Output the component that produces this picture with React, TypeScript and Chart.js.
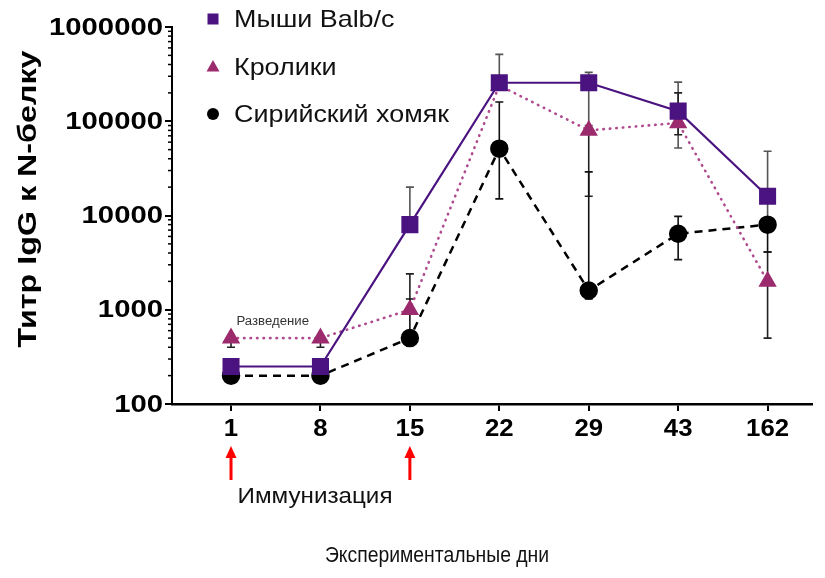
import React, { useEffect, useRef } from 'react';
import { Chart, registerables } from 'chart.js';

Chart.register(...registerables);

// ---------- data ----------
const days = ['1', '8', '15', '22', '29', '43', '162'];
const yTickValues = [100, 1000, 10000, 100000, 1000000];
const yTickLabels = ['100', '1000', '10000', '100000', '1000000'];
const immunizationDays = ['1', '15'];

const miceLabel = 'Мыши Balb/c';
const miceValues = [250, 250, 8000, 256000, 256000, 128000, 16000];
const miceLow = [250, 250, 8000, 256000, 90000, 52000, 9000];
const miceHigh = [250, 300, 20000, 512000, 330000, 260000, 48000];

const rabbitLabel = 'Кролики';
const rabbitValues = [500, 500, 1000, 240000, 80000, 96000, 2000];
const rabbitLow = [400, 400, 1000, 240000, 16000, 72000, 500];
const rabbitHigh = [500, 500, 2400, 240000, 80000, 200000, 4100];

const hamsterLabel = 'Сирийский хомяк';
const hamsterValues = [200, 200, 500, 51200, 1600, 6400, 8000];
const hamsterLow = [200, 200, 460, 15000, 1300, 3400, 4100];
const hamsterHigh = [200, 200, 1300, 160000, 29000, 9800, 8000];

const yTitle = 'Титр IgG к N-белку';
const xTitle = 'Экспериментальные дни';
const immunizationText = 'Иммунизация';
const dilutionText = 'Разведение';

const FONT = '"Liberation Sans", Arial, Helvetica, sans-serif';

const MICE_COLOR = '#4a1380';
const RABBIT_COLOR = '#9c2b6e';
const RABBIT_LINE = '#b04a8e';

const toPoints = (vals: number[]) => vals.map((v, i) => ({ x: i, y: v }));

function drawText(
  ctx: CanvasRenderingContext2D,
  text: string,
  x: number,
  y: number,
  font: string,
  color: string,
  align: CanvasTextAlign,
  sx: number,
  rotate = 0
) {
  ctx.save();
  ctx.translate(x, y);
  if (rotate) ctx.rotate(rotate);
  ctx.scale(sx, 1);
  ctx.font = font;
  ctx.fillStyle = color;
  ctx.textAlign = align;
  ctx.textBaseline = 'middle';
  ctx.fillText(text, 0, 0);
  ctx.restore();
}

const errorBarPlugin = {
  id: 'errorBars',
  beforeDatasetsDraw(chart: any) {
    const { ctx } = chart;
    const xs = chart.scales.x;
    const ys = chart.scales.y;
    chart.data.datasets.forEach((ds: any) => {
      ctx.save();
      ctx.strokeStyle = ds.errColor;
      ctx.lineWidth = 1.6;
      ds.data.forEach((p: any, i: number) => {
        const x = xs.getPixelForValue(p.x);
        const yc = ys.getPixelForValue(p.y);
        const hi = ds.errHigh[i];
        const lo = ds.errLow[i];
        const cap = 4;
        if (hi > p.y) {
          const yh = ys.getPixelForValue(hi);
          ctx.beginPath();
          ctx.moveTo(x, yc);
          ctx.lineTo(x, yh);
          ctx.moveTo(x - cap, yh);
          ctx.lineTo(x + cap, yh);
          ctx.stroke();
        }
        if (lo < p.y) {
          const yl = ys.getPixelForValue(lo);
          ctx.beginPath();
          ctx.moveTo(x, yc);
          ctx.lineTo(x, yl);
          ctx.moveTo(x - cap, yl);
          ctx.lineTo(x + cap, yl);
          ctx.stroke();
        }
      });
      ctx.restore();
    });
  },
};

const annotationPlugin = {
  id: 'annotations',
  afterDraw(chart: any) {
    const { ctx } = chart;
    const xs = chart.scales.x;
    const ys = chart.scales.y;
    const area = chart.chartArea;

    // minor log ticks
    ctx.save();
    ctx.strokeStyle = '#000';
    ctx.lineWidth = 1.5;
    for (let k = 0; k < yTickValues.length - 1; k++) {
      for (let m = 2; m <= 9; m++) {
        const v = yTickValues[k] * m;
        const y = ys.getPixelForValue(v);
        ctx.beginPath();
        ctx.moveTo(area.left, y);
        ctx.lineTo(area.left - 4, y);
        ctx.stroke();
      }
    }
    ctx.restore();

    // y tick labels
    yTickValues.forEach((v, i) => {
      drawText(ctx, yTickLabels[i], area.left - 9, ys.getPixelForValue(v) + 1, `bold 24px ${FONT}`, '#000', 'right', 1.22);
    });
    // x tick labels
    days.forEach((d, i) => {
      drawText(ctx, d, xs.getPixelForValue(i), 430, `bold 23px ${FONT}`, '#000', 'center', 1.12);
    });

    // y title
    drawText(ctx, yTitle, 29, 199, `bold 26px ${FONT}`, '#000', 'center', 1.24, -Math.PI / 2);

    // x title
    drawText(ctx, xTitle, 437, 556, `22px ${FONT}`, '#111', 'center', 0.88);

    // immunization arrows + label
    ctx.save();
    ctx.fillStyle = '#ff0000';
    immunizationDays.forEach((d) => {
      const x = xs.getPixelForValue(days.indexOf(d));
      ctx.fillRect(x - 1.5, 456, 3, 24);
      ctx.beginPath();
      ctx.moveTo(x, 446);
      ctx.lineTo(x - 5.5, 458);
      ctx.lineTo(x + 5.5, 458);
      ctx.closePath();
      ctx.fill();
    });
    ctx.restore();
    drawText(ctx, immunizationText, 315, 497, `22px ${FONT}`, '#111', 'center', 1.1);

    // dilution label
    const xd = (xs.getPixelForValue(0) + xs.getPixelForValue(1)) / 2;
    drawText(ctx, dilutionText, xd - 3, 322, `12px ${FONT}`, '#333', 'center', 1.1);

    // legend
    const rows = [19, 67, 114];
    chart.data.datasets.forEach((ds: any, i: number) => {
      const y = rows[i];
      const x = 213;
      ctx.save();
      ctx.fillStyle = ds.pointBackgroundColor;
      ctx.beginPath();
      if (ds.pointStyle === 'rect') {
        ctx.rect(x - 5.5, y - 5.5, 11, 11);
      } else if (ds.pointStyle === 'triangle') {
        ctx.moveTo(x, y - 7);
        ctx.lineTo(x - 6.5, y + 4.5);
        ctx.lineTo(x + 6.5, y + 4.5);
        ctx.closePath();
      } else {
        ctx.arc(x, y, 6, 0, Math.PI * 2);
      }
      ctx.fill();
      ctx.restore();
      drawText(ctx, ds.label, 234, y + 1, `24px ${FONT}`, '#111', 'left', 1.12);
    });
  },
};

export default function App() {
  const canvasRef = useRef<HTMLCanvasElement | null>(null);

  useEffect(() => {
    document.body.style.margin = '0';
    const canvas = canvasRef.current;
    if (!canvas) return;
    const chart = new Chart(canvas, {
      type: 'line',
      data: {
        datasets: [
          {
            label: miceLabel,
            data: toPoints(miceValues),
            errLow: miceLow,
            errHigh: miceHigh,
            errColor: '#555',
            borderColor: MICE_COLOR,
            backgroundColor: MICE_COLOR,
            pointBackgroundColor: MICE_COLOR,
            pointBorderColor: MICE_COLOR,
            pointStyle: 'rect',
            pointRadius: 10.5,
            borderWidth: 2.2,
          } as any,
          {
            label: rabbitLabel,
            data: toPoints(rabbitValues),
            errLow: rabbitLow,
            errHigh: rabbitHigh,
            errColor: '#222',
            borderColor: RABBIT_LINE,
            backgroundColor: RABBIT_COLOR,
            pointBackgroundColor: RABBIT_COLOR,
            pointBorderColor: RABBIT_COLOR,
            pointStyle: 'triangle',
            pointRadius: 8,
            borderWidth: 2.6,
            borderDash: [0.5, 6],
            borderCapStyle: 'round',
          } as any,
          {
            label: hamsterLabel,
            data: toPoints(hamsterValues),
            errLow: hamsterLow,
            errHigh: hamsterHigh,
            errColor: '#111',
            borderColor: '#000',
            backgroundColor: '#000',
            pointBackgroundColor: '#000',
            pointBorderColor: '#000',
            pointStyle: 'circle',
            pointRadius: 8,
            borderWidth: 2.5,
            borderDash: [8, 6],
          } as any,
        ],
      },
      options: {
        responsive: false,
        animation: false,
        layout: { padding: { top: 27, right: 5, left: 0, bottom: 0 } },
        plugins: { legend: { display: false }, tooltip: { enabled: false } },
        scales: {
          x: {
            type: 'linear',
            min: -0.66,
            max: 6.5,
            afterBuildTicks: (s: any) => {
              s.ticks = days.map((_, i) => ({ value: i }));
            },
            afterFit: (s: any) => {
              s.height = 174;
            },
            ticks: { display: false, autoSkip: false },
            grid: { drawOnChartArea: false, drawTicks: true, tickLength: 7, color: '#000', lineWidth: 2 },
            border: { color: '#000', width: 2.5 },
          },
          y: {
            type: 'logarithmic',
            min: 100,
            max: 1000000,
            afterBuildTicks: (s: any) => {
              s.ticks = yTickValues.map((v) => ({ value: v }));
            },
            afterFit: (s: any) => {
              s.width = 172;
            },
            ticks: { display: false, autoSkip: false },
            grid: { drawOnChartArea: false, drawTicks: true, tickLength: 7, color: '#000', lineWidth: 2 },
            border: { color: '#000', width: 2 },
          },
        },
      } as any,
      plugins: [errorBarPlugin, annotationPlugin],
    });
    return () => chart.destroy();
  }, []);

  return (
    <div style={{ position: 'absolute', left: 0, top: 0, width: 825, height: 578, background: '#fff' }}>
      <canvas ref={canvasRef} width={825} height={578} style={{ display: 'block' }} />
    </div>
  );
}
